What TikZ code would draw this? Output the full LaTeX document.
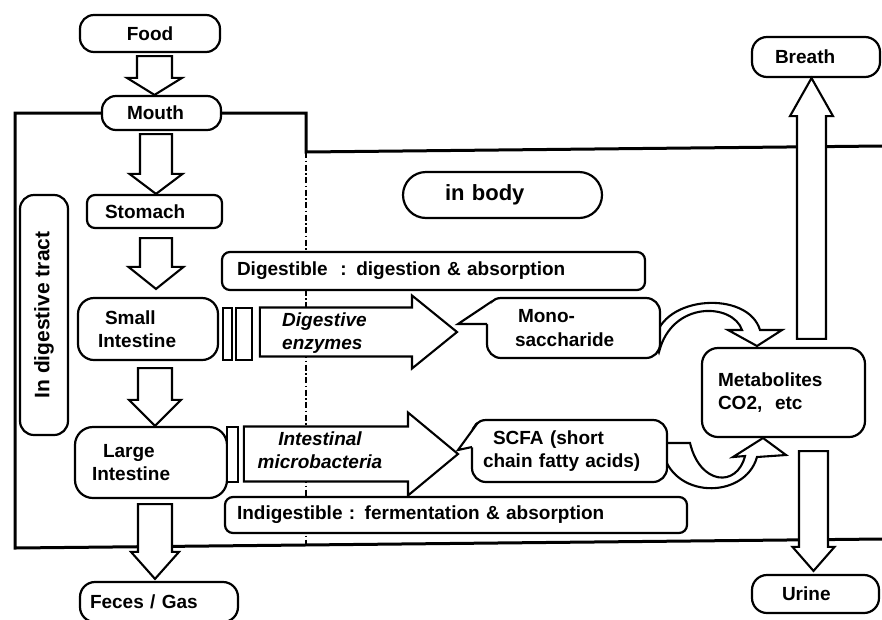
\documentclass[tikz,border=0pt]{standalone}
\usepackage{fontspec}
\setmainfont{Liberation Sans}
\usetikzlibrary{calc}
\pgfdeclarelayer{bg}
\pgfsetlayers{bg,main}
% vertical block arrow pointing down: #1 from, #2 tip, #3 centre x, #4 shaft half, #5 head half, #6 head length
\newcommand\vdown[6]{%
  \draw[barrow] let \p1=(#1), \p2=(#2) in
  ({#3pt-#4pt},\y1) -- ({#3pt-#4pt},{\y2+#6pt}) -- ({#3pt-#5pt},{\y2+#6pt}) -- ({#3pt},\y2)
  -- ({#3pt+#5pt},{\y2+#6pt}) -- ({#3pt+#4pt},{\y2+#6pt}) -- ({#3pt+#4pt},\y1) -- cycle;}
\newcommand\vup[6]{%
  \draw[barrow] let \p1=(#1), \p2=(#2) in
  ({#3pt-#4pt},\y1) -- ({#3pt-#4pt},{\y2-#6pt}) -- ({#3pt-#5pt},{\y2-#6pt}) -- ({#3pt},\y2)
  -- ({#3pt+#5pt},{\y2-#6pt}) -- ({#3pt+#4pt},{\y2-#6pt}) -- ({#3pt+#4pt},\y1) -- cycle;}
% horizontal block arrow: #1 from, #2 tip, #3 shaft half, #4 head half, #5 head length, #6 gap
\newcommand\hblock[6]{%
  \draw[barrow] let \p1=(#1), \p2=(#2) in
  ({\x1+#6pt},{\y2+#3pt}) -- ({\x2-#5pt},{\y2+#3pt}) -- ({\x2-#5pt},{\y2+#4pt}) -- (\x2,\y2)
  -- ({\x2-#5pt},{\y2-#4pt}) -- ({\x2-#5pt},{\y2-#3pt}) -- ({\x1+#6pt},{\y2-#3pt}) -- cycle;}
\begin{document}
\begin{tikzpicture}[x=1pt,y=-1pt,
  every node/.style={font=\bfseries\fontsize{19}{23.5}\selectfont},
  box/.style={draw, fill=white, line width=2.2pt, rounded corners=#1, inner ysep=0pt},
  box/.default=14pt,
  itl/.style={font=\bfseries\itshape\fontsize{19}{23}\selectfont, inner sep=0pt},
  bar/.style={draw, fill=white, line width=1.8pt, inner sep=0pt},
  barrow/.style={draw, fill=white, line width=2.1pt, line join=miter},
  bound/.style={line width=3pt},
  dashline/.style={line width=2pt, dash pattern=on 6pt off 2.5pt on 1.5pt off 2.5pt},
  ptr/.style={line width=2.1pt}]
\useasboundingbox (0,0) rectangle (882,619);

% ---------- boxes ----------
\node[box, minimum width=140, minimum height=37] (food) at (150,33.5) {Food};
\node[box, text width=69pt, inner xsep=25pt, align=left, minimum height=34] (mouth) at (161.5,113) {Mouth};
\node[box=8pt, text width=99pt, inner xsep=18pt, align=left, minimum height=33] (stomach) at (154.5,211.5) {Stomach};
\node[box=16pt, text width=100pt, inner xsep=20pt, align=left, minimum height=62] (si) at (148,329) {\hspace*{7pt}Small\\Intestine};
\node[box=18pt, text width=118pt, inner xsep=17pt, align=left, minimum height=71] (li) at (151,462.5) {\hspace*{11pt}Large\\Intestine};
\node[box=15pt, text width=138pt, inner xsep=10pt, align=left, minimum height=40] (feces) at (159,602) {Feces / Gas};
\node[box, rotate=90, minimum width=240, minimum height=48, font=\bfseries\fontsize{21}{24}\selectfont] (tract) at (44,315) {In digestive tract};

\node[box=8pt, text width=393pt, inner xsep=15pt, align=left, minimum height=38] (dig) at (433.5,271) {Digestible~ : digestion \& absorption};
\node[box=8pt, text width=438pt, inner xsep=12pt, align=left, minimum height=36] (indig) at (456,515) {Indigestible : fermentation \& absorption};
\node[box=23pt, text width=115pt, inner xsep=42pt, align=left, minimum height=46, font=\bfseries\fontsize{22}{26}\selectfont] (body) at (502.5,195) {in body};

\node[box, text width=117pt, inner xsep=28pt, align=left, minimum height=60] (mono) at (573.5,328) {\hspace*{3pt}Mono-\\saccharide};
\node[box, text width=173pt, inner xsep=11pt, align=left, minimum height=62] (scfa) at (569.5,451) {\hspace*{10pt}SCFA (short\\chain fatty acids)};
\node[box=16pt, text width=131pt, inner xsep=16pt, align=left, minimum height=89] (metab) at (783.5,392.5) {Metabolites\\CO2,~ etc};
\node[box=15pt, text width=82pt, inner xsep=23pt, align=left, minimum height=40] (breath) at (816,57) {Breath};
\node[box=15pt, text width=67pt, inner xsep=30pt, align=left, minimum height=38] (urine) at (815.5,594) {Urine};

% thin bars
\node[bar, minimum width=9, minimum height=52] (sibar1) at (227.5,334) {};
\node[bar, minimum width=16, minimum height=52] (sibar2) at (244,334) {};
\node[bar, minimum width=11, minimum height=55] (libar) at (232.5,454.5) {};

% ---------- background: boundary, dashed line, curved arrows ----------
\begin{pgfonlayer}{bg}
  \draw[bound] (mouth.west) -- (15,113) -- (15,548) -- (882,539);
  \draw[bound] (mouth.east) -- (306,113) -- (306,152) -- (882,146);
  \draw[dashline] (306,152) -- (306,545);
  % Monosaccharide -> Metabolites
  \draw[barrow] (655,340) .. controls (662,295) and (748,290) .. (760,330)
     -- (782,330) -- (757,346) -- (728,330) -- (742,330)
     .. controls (733,303) and (672,300) .. (659,352) -- cycle;
  % SCFA -> Metabolites
  \draw[barrow] (662,443) -- (690,443) .. controls (700,485) and (737,488) .. (745,456)
     -- (733,457) -- (763,438) -- (786,455) -- (757,457)
     .. controls (745,500) and (670,500) .. (662,448) -- cycle;
\end{pgfonlayer}

% ---------- vertical block arrows ----------
\vdown{$(food.south)+(0,3)$}{mouth.north}{154.5}{17.5}{27.5}{17}
\vdown{$(mouth.south)+(0,3)$}{stomach.north}{156}{16}{26.5}{20}
\vdown{$(stomach.south)+(0,9)$}{$(si.north)+(0,-8)$}{156}{16}{27.5}{22}
\vdown{$(si.south)+(0,7)$}{li.north}{155}{17}{26}{26}
\vdown{$(li.south)+(0,5)$}{$(feces.north)+(0,-2)$}{155}{17}{24}{27}
\vup{$(metab.north)+(0,-8)$}{breath.south}{811.5}{14.5}{21.5}{38}
\vdown{$(metab.south)+(0,13)$}{$(urine.north)+(0,-3)$}{813.5}{14.5}{21}{24}

% ---------- horizontal block arrows ----------
\coordinate (enztip) at (457,332);
\coordinate (mictip) at (458,454);
\hblock{sibar2.east}{enztip}{24.5}{36.5}{45}{7}
\hblock{libar.east}{mictip}{27.5}{41.5}{50}{5}
\node[itl, anchor=west, align=left] (enztext) at (282,333.5) {Digestive\\enzymes};
\node[itl, align=center] (mictext) at (320,450) {Intestinal\\microbacteria};

% ---------- callout pointers ----------
\fill[white] (458,324) -- (492,300.5) -- (490,310) -- (490,324) -- cycle;
\draw[ptr] (492,301.3) -- (458,324) -- (487,324);
\fill[white] (458,450) -- (478,422.5) -- (475,430) -- (475,447) -- cycle;
\draw[ptr] (478,422.5) -- (458,450) -- (472,447);
\end{tikzpicture}
\end{document}
